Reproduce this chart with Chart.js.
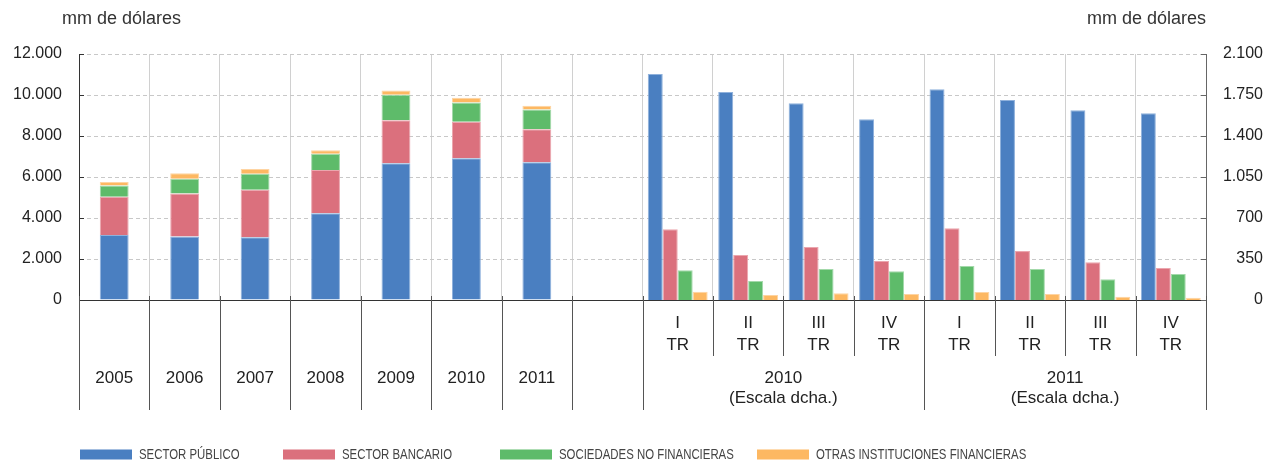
<!DOCTYPE html>
<html><head><meta charset="utf-8">
<script src="https://cdn.jsdelivr.net/npm/chart.js@4/dist/chart.umd.min.js"></script>
<style>html,body{margin:0;padding:0;background:#fff}</style>
</head><body>
<canvas id="c" width="1274" height="462"></canvas>
<script>
// ---- data ----
const years = ['2005','2006','2007','2008','2009','2010','2011'];
const quarterRoman = ['I','II','III','IV','I','II','III','IV'];
const quarterSuffix = 'TR';
const quarterYears = ['2010','2011'];
const quarterYearNote = '(Escala dcha.)';
const unitLabel = 'mm de dólares';
const seriesNames = ['SECTOR PÚBLICO','SECTOR BANCARIO','SOCIEDADES NO FINANCIERAS','OTRAS INSTITUCIONES FINANCIERAS'];
const seriesColors = ['#4a7fc1','#db707d','#5ebb6a','#fdb862'];
const seriesEdges  = ['#8fb1dc','#eba6ae','#a3d9aa','#fed4a2'];

const annualPublico     = [3170,3100,3060,4230,6670,6910,6720];
const annualBancario    = [1870,2100,2320,2110,2100,1790,1610];
const annualSociedades  = [540,720,780,800,1240,930,960];
const annualOtras       = [180,260,230,160,210,230,180];

const quarterPublico    = [1929,1776,1679,1543,1799,1707,1619,1594];
const quarterBancario   = [603,384,452,333,612,418,322,273];
const quarterSociedades = [253,162,265,245,290,265,177,222];
const quarterOtras      = [71,43,57,51,68,51,28,20];

const leftTicks  = [0,2000,4000,6000,8000,10000,12000];
const rightTicks = [0,350,700,1050,1400,1750,2100];

// ---- build ----
const labels = [...years, '', ...quarterRoman.map((r,i)=>r+' '+quarterSuffix+' '+quarterYears[Math.floor(i/4)])];
const nA = years.length;
const padA = arr => [...arr, ...Array(labels.length - arr.length).fill(null)];
const padQ = arr => [...Array(labels.length - arr.length).fill(null), ...arr];
const annual = [annualPublico, annualBancario, annualSociedades, annualOtras];
const quarterly = [quarterPublico, quarterBancario, quarterSociedades, quarterOtras];

const datasets = [];
annual.forEach((arr,k)=>datasets.push({
  label: seriesNames[k], data: padA(arr), backgroundColor: seriesColors[k], borderColor: seriesEdges[k],
  stack: 'anual', yAxisID: 'y', skipNull: true, categoryPercentage: 0.41, barPercentage: 1, borderWidth: 1
}));
quarterly.forEach((arr,k)=>datasets.push({
  label: seriesNames[k], data: padQ(arr), backgroundColor: seriesColors[k], borderColor: seriesEdges[k],
  stack: 'q'+k, yAxisID: 'y2', skipNull: true, categoryPercentage: 0.85, barPercentage: 1, borderWidth: 1
}));

const fmt = v => String(v).replace(/\B(?=(\d{3})+(?!\d))/g, '.');
const FONT = '"Liberation Sans", Arial, sans-serif';

const decor = {
  id: 'decor',
  afterDraw(chart) {
    const {ctx, chartArea: a, scales: {x, y, y2}} = chart;
    const n = chart.data.labels.length;
    const px = i => x.getPixelForValue(i);
    const boundary = i => i === 0 ? a.left : i === n ? a.right : (px(i-1) + px(i)) / 2;
    ctx.save();
    // inward ticks on value axes
    ctx.lineWidth = 1;
    ctx.strokeStyle = '#333';
    leftTicks.forEach(v => { const yy = Math.round(y.getPixelForValue(v)) + 0.5; ctx.beginPath(); ctx.moveTo(a.left, yy); ctx.lineTo(a.left + 5, yy); ctx.stroke(); });
    ctx.strokeStyle = '#666';
    rightTicks.forEach(v => { const yy = Math.round(y2.getPixelForValue(v)) + 0.5; ctx.beginPath(); ctx.moveTo(a.right - 5, yy); ctx.lineTo(a.right, yy); ctx.stroke(); });
    // separators below the axis
    const fullB = [], shortB = [];
    for (let i = 0; i <= n; i++) {
      const inQ = i > nA + 1 && i < n;
      if (inQ && (i - (nA + 1)) % 4 !== 0) shortB.push(i); else fullB.push(i);
    }
    ctx.strokeStyle = '#555';
    const vline = (i, len) => { const xx = Math.round(boundary(i)) + 0.5; ctx.beginPath(); ctx.moveTo(xx, a.bottom - 4); ctx.lineTo(xx, a.bottom + len); ctx.stroke(); };
    fullB.forEach(i => vline(i, 110));
    shortB.forEach(i => vline(i, 56));
    // category labels
    ctx.fillStyle = '#222';
    ctx.font = '17px ' + FONT;
    ctx.textAlign = 'center';
    ctx.textBaseline = 'middle';
    years.forEach((t, i) => ctx.fillText(t, px(i), a.bottom + 78));
    quarterRoman.forEach((t, k) => {
      const i = nA + 1 + k;
      ctx.fillText(t, px(i), a.bottom + 23);
      ctx.fillText(quarterSuffix, px(i), a.bottom + 45);
    });
    quarterYears.forEach((t, g) => {
      const c = (boundary(nA + 1 + 4*g) + boundary(nA + 5 + 4*g)) / 2;
      ctx.fillText(t, c, a.bottom + 78);
      ctx.fillText(quarterYearNote, c, a.bottom + 98);
    });
    // unit labels
    ctx.font = '18px ' + FONT;
    ctx.fillStyle = '#333';
    ctx.textAlign = 'left';
    ctx.fillText(unitLabel, a.left - 17, 19);
    ctx.textAlign = 'right';
    ctx.fillText(unitLabel, a.right, 19);
    // legend
    const legendX = [80, 283, 500, 757];
    const ly = 454.5;
    seriesNames.forEach((name, k) => {
      ctx.fillStyle = seriesColors[k];
      ctx.fillRect(legendX[k], ly - 5, 52, 10);
      ctx.save();
      ctx.translate(legendX[k] + 59, ly);
      ctx.scale(0.76, 1);
      ctx.fillStyle = '#444';
      ctx.font = '15px ' + FONT;
      ctx.textAlign = 'left';
      ctx.fillText(name, 0, 0);
      ctx.restore();
    });
    ctx.restore();
  }
};

new Chart(document.getElementById('c'), {
  type: 'bar',
  data: { labels, datasets },
  options: {
    responsive: false,
    animation: false,
    events: [],
    layout: { padding: { top: 54, left: 0, right: 11, bottom: 0 } },
    plugins: { legend: { display: false }, tooltip: { enabled: false } },
    scales: {
      x: {
        offset: true,
        grid: { color: '#d0d0d0', offset: true, drawTicks: false },
        border: { display: true, color: '#333', z: 1 },
        ticks: { display: false },
        afterFit(s) { s.height = 162; }
      },
      y: {
        position: 'left', min: 0, max: 12000,
        afterBuildTicks(s) { s.ticks = leftTicks.map(v => ({ value: v })); },
        grid: { color: '#c8c8c8', drawTicks: false },
        border: { display: true, color: '#333', dash: [4, 3] },
        ticks: { padding: 17, color: '#222', font: { size: 16, family: FONT }, callback: v => fmt(v) },
        afterFit(s) { s.width = 79; }
      },
      y2: {
        position: 'right', min: 0, max: 2100,
        afterBuildTicks(s) { s.ticks = rightTicks.map(v => ({ value: v })); },
        grid: { display: false, drawTicks: false },
        border: { display: true, color: '#666' },
        ticks: { padding: 17, crossAlign: 'far', color: '#222', font: { size: 16, family: FONT }, callback: v => fmt(v) },
        afterFit(s) { s.width = 57; }
      }
    }
  },
  plugins: [decor]
});
</script>
</body></html>
